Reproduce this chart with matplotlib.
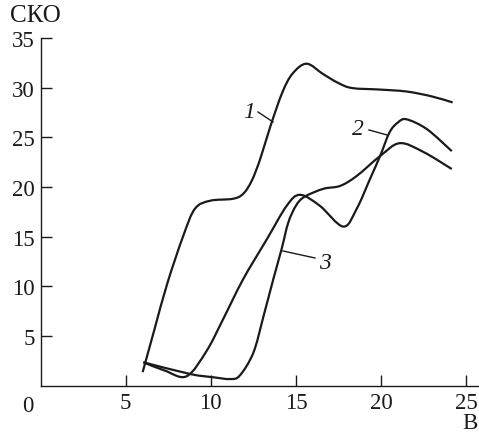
import numpy as np
import matplotlib
matplotlib.use("Agg")
import matplotlib.pyplot as plt
from matplotlib.path import Path
from matplotlib.patches import PathPatch

# Data
x1 = [6.0, 6.7, 7.45, 8.39, 9.07, 9.95, 11.3, 11.9, 12.4, 12.9, 13.5, 14.2, 14.8, 15.63, 16.6, 17.5, 18.3, 19.9, 21.5, 23.0, 24.2]
y1 = [1.35, 5.7, 10.3, 15.1, 17.8, 18.6, 18.8, 19.3, 20.6, 22.8, 26.1, 29.5, 31.4, 32.4, 31.35, 30.45, 29.95, 29.8, 29.6, 29.1, 28.5]

x2 = [6.04, 7.3, 8.58, 9.76, 10.73, 11.9, 13.3, 14.46, 15.24, 16.4, 17.78, 18.57, 19.35, 19.94, 20.5, 21.0, 21.5, 22.7, 24.15]
y2 = [2.34, 1.5, 0.93, 3.5, 6.7, 10.7, 14.75, 18.1, 19.2, 18.1, 16.0, 17.8, 20.8, 23.1, 25.5, 26.5, 26.8, 25.8, 23.6]

x3 = [6.04, 8.78, 10.15, 11.13, 11.7, 12.5, 13.1, 13.67, 14.16, 14.55, 15.0, 15.5, 16.6, 17.6, 18.57, 19.94, 21.1, 22.5, 24.15]
y3 = [2.34, 1.16, 0.83, 0.65, 1.0, 3.3, 7.0, 10.7, 13.75, 16.4, 18.1, 19.0, 19.8, 20.1, 21.1, 23.1, 24.4, 23.5, 21.8]

xticks = [5, 10, 15, 20, 25]
yticks = [5, 10, 15, 20, 25, 30, 35]
curve_labels = ["1", "2", "3"]

plt.rcParams['font.family'] = ['Liberation Serif', 'DejaVu Serif']

fig = plt.figure(figsize=(4.79, 4.35), dpi=100)
ax = fig.add_axes([40.5/479, 48.5/435, 1 - 40.5/479, (386.5 - 38.9)/435])
ax.set_xlim(0, 25.75)
ax.set_ylim(0, 35)

def smooth_path(xs, ys):
    pts = np.column_stack([xs, ys])
    n = len(pts)
    verts = [pts[0]]
    codes = [Path.MOVETO]
    for i in range(n - 1):
        p0 = pts[i - 1] if i > 0 else pts[i]
        p1 = pts[i]
        p2 = pts[i + 1]
        p3 = pts[i + 2] if i + 2 < n else pts[i + 1]
        c1 = p1 + (p2 - p0) / 6.0
        c2 = p2 - (p3 - p1) / 6.0
        verts += [c1, c2, p2]
        codes += [Path.CURVE4] * 3
    return Path(verts, codes)

for xs, ys in [(x1, y1), (x2, y2), (x3, y3)]:
    patch = PathPatch(smooth_path(xs, ys), facecolor='none', edgecolor='#1a1a1a',
                      lw=1.6, transform=ax.transData, capstyle='butt')
    ax.add_patch(patch)

for s in ['top', 'right']:
    ax.spines[s].set_visible(False)
for s in ['left', 'bottom']:
    ax.spines[s].set_linewidth(1.0)
    ax.spines[s].set_color('#1a1a1a')

ax.set_xticks(xticks)
ax.set_yticks(yticks)
ax.tick_params(direction='in', length=8, width=1.0, color='#1a1a1a',
               labelsize=16.5, labelcolor='#1a1a1a')
ax.tick_params(axis='y', pad=4)
ax.tick_params(axis='x', pad=5)

# origin label and axis titles
fig.text(28/479, 1 - 407/435, "0", fontsize=16.5, ha='center', va='center', color='#1a1a1a')
fig.text(35/479, 1 - 16/435, "СКО", fontsize=18, ha='center', va='center', color='#1a1a1a')
fig.text(470/479, 1 - 424/435, "В", fontsize=16.5, ha='center', va='center', color='#1a1a1a')

# curve labels with leader lines
def px2d(px, py):
    return ((px - 40.5) / 17.03, (386.5 - py) / 9.93)

labels_pos = [((249, 113), (258, 113), (273, 123)),
              ((358, 130), (369, 131), (387, 136)),
              ((325, 264), (315, 259), (283, 252))]
for lab, (tp, la, lb) in zip(curve_labels, labels_pos):
    tx, ty = px2d(*tp)
    ax.text(tx, ty, lab, fontsize=17, style='italic', ha='center', va='center', color='#1a1a1a')
    a = px2d(*la); b = px2d(*lb)
    ax.plot([a[0], b[0]], [a[1], b[1]], color='#1a1a1a', lw=1.0)

fig.savefig("out.png", dpi=100)
